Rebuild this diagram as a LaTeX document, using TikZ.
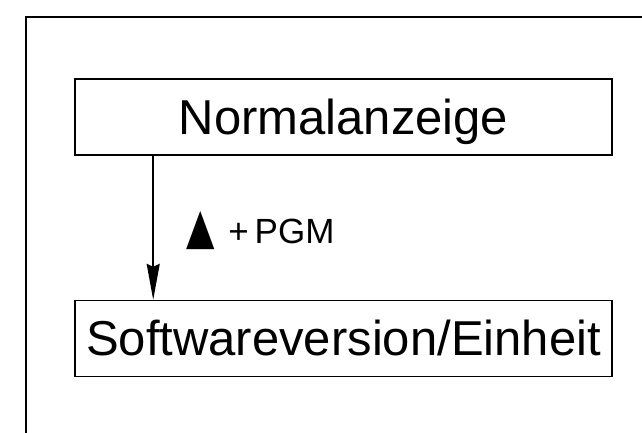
\documentclass[tikz,border=0pt]{standalone}
\usepackage{fontspec}
\setmainfont{Liberation Sans}
\newfontfamily\symbfont{DejaVu Sans}
\usetikzlibrary{arrows.meta,positioning}

\begin{document}
\begin{tikzpicture}[
  x=1pt, y=-1pt,
  line width=1.6pt,
  box/.style={draw, minimum width=537pt, minimum height=76pt, inner sep=0pt,
    text height=34pt, text depth=0pt, font=\fontsize{49}{56}\selectfont},
  keylbl/.style={inner sep=0pt, font=\fontsize{35}{40}\selectfont}
]
\clip (0,0) rectangle (642,432);
% outer frame, cut off at the right and bottom
\draw (26,450) |- (660,17);
\node[box] (norm) at (343.5,117) {Normalanzeige};
\node[box, below=144pt of norm] (soft) {Softwareversion/Einheit};
\draw[-{Stealth[length=36pt,width=13pt,inset=3pt]}]
  ([xshift=79pt]norm.south west) -- ([xshift=79pt]soft.north west)
  node[keylbl, pos=0.61, anchor=base west, xshift=32pt] (key)
    {\scalebox{1}[1.35]{\symbfont\fontsize{37}{40}\selectfont ▲}\hspace{14pt}+\,PGM};
\end{tikzpicture}
\end{document}
